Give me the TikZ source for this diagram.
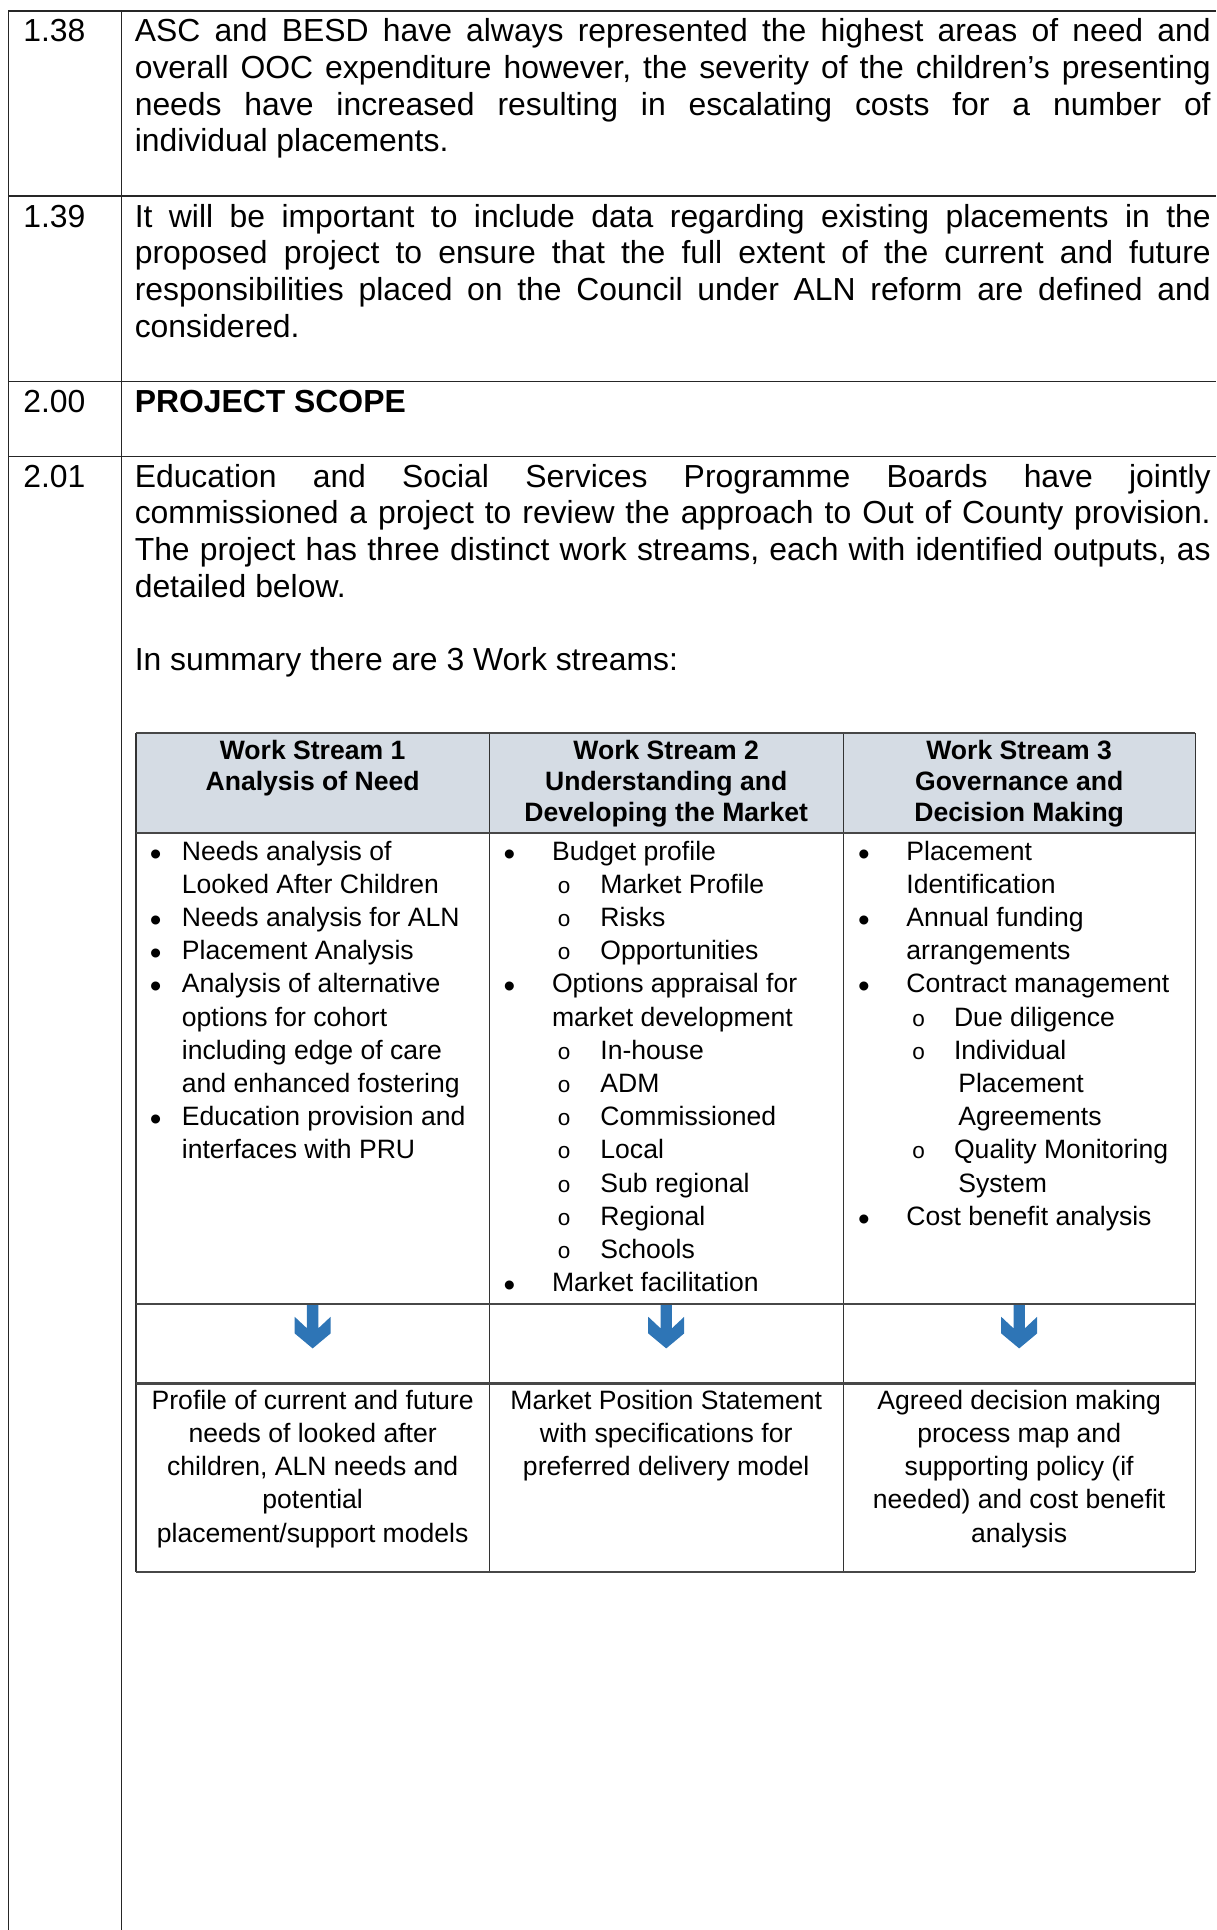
\documentclass[tikz,border=0pt]{standalone}
\usepackage{fontspec}
\setmainfont{Liberation Sans}
\newfontfamily\cour{Liberation Mono}
\newdimen\ux \ux=0.4633pt
\definecolor{hdrfill}{HTML}{D5DCE4}
\definecolor{arrblue}{RGB}{46,117,182}
\newcommand{\wline}[4]{\hbox{\rlap{\hskip #1\ux\makebox[0pt]{#2}}\hskip #3\ux #4}}
\newcommand{\jl}[1]{\hbox to 405pt{#1}}
\newcommand{\nl}[1]{\hbox{#1}}
\newcommand{\sym}{{\fontsize{8.5}{8.5}\selectfont\cour o}}
\newsavebox{\bulbox}
\newcommand{\bul}{\sbox{\bulbox}{\fontsize{12.5}{12.5}\selectfont\textbullet}\raisebox{\dimexpr 3.9pt-\ht\bulbox\relax}{\usebox{\bulbox}}}
\tikzset{
  body/.style={anchor=base west, inner sep=0pt, outer sep=0pt, font=\fontsize{12}{13.8}\selectfont\frenchspacing},
  cell/.style={anchor=base west, inner sep=0pt, outer sep=0pt, font=\fontsize{10}{12.5}\selectfont},
  hdrtxt/.style={anchor=base, inner sep=0pt, outer sep=0pt, font=\fontsize{10}{11.7}\selectfont\bfseries},
  outtxt/.style={anchor=base, inner sep=0pt, outer sep=0pt, font=\fontsize{10}{12.5}\selectfont},
  outerline/.style={line width=0.6pt, black!85},
  hrule/.style={line width=0.8pt, black!72},
  vrule/.style={line width=0.45pt, black!80},
  dnarrow/.pic={\fill[arrblue] (-4.6,0) -- (-4.6,19.7) -- (-14.6,10.3) -- (-14.6,23.8) -- (0,36) -- (14.6,23.8) -- (14.6,10.3) -- (4.6,19.7) -- (4.6,0) -- cycle;}
}
\begin{document}
\begin{tikzpicture}[x=0.4633pt,y=-0.4633pt]
\useasboundingbox (0,0) rectangle (988,1568);
% outer table
\draw[outerline] (7,1568) -- (7,8.9) -- (988,8.9);
\draw[outerline] (98.8,8.9) -- (98.8,1568);
\foreach \yy in {159.2,310.1,371} \draw[outerline] (7,\yy) -- (988,\yy);
% numbers
\node[body] (n138) at (19,33.9) {1.38};
\node[body] (n139) at (19,184.5) {1.39};
\node[body] (n200) at (19,335.5) {2.00};
\node[body] (n201) at (19,395.8) {2.01};
% paragraphs
\node[body] (p138) at (109.5,33.9) {\vtop{%
\jl{ASC and BESD have always represented the highest areas of need and}
\jl{overall OOC expenditure however, the severity of the children’s presenting}
\jl{needs have increased resulting in escalating costs for a number of}
\nl{individual placements.}}};
\node[body] (p139) at (109.5,184.5) {\vtop{%
\jl{It will be important to include data regarding existing placements in the}
\jl{proposed project to ensure that the full extent of the current and future}
\jl{responsibilities placed on the Council under ALN reform are defined and}
\nl{considered.}}};
\node[body, font=\fontsize{12}{13.8}\selectfont\bfseries] (p200) at (109.5,335.5) {PROJECT SCOPE};
\node[body] (p201) at (109.5,395.8) {\vtop{%
\jl{Education and Social Services Programme Boards have jointly}
\jl{commissioned a project to review the approach to Out of County provision.}
\jl{The project has three distinct work streams, each with identified outputs, as}
\nl{detailed below.}}};
\node[body] (summ) at (109.5,544.8) {In summary there are 3 Work streams:};
% inner table
\fill[hdrfill] (110.5,595.3) rectangle (971,677);
\pic at (254,1059.5) {dnarrow};
\pic at (541.25,1059.5) {dnarrow};
\pic at (828,1059.5) {dnarrow};
\foreach \xx in {110.5,397.5,685,971} \draw[vrule] (\xx,595.3) -- (\xx,1277);
\foreach \yy in {595.3,677,1059.5,1124,1277} \draw[hrule] (110.5,\yy) -- (971,\yy);
% headers
\node[hdrtxt] (h1) at (254,616.7) {\vtop{\halign{\hfil#\hfil\cr Work Stream 1\cr Analysis of Need\cr}}};
\node[hdrtxt] (h2) at (541.25,616.7) {\vtop{\halign{\hfil#\hfil\cr Work Stream 2\cr Understanding and\cr Developing the Market\cr}}};
\node[hdrtxt] (h3) at (828,616.7) {\vtop{\halign{\hfil#\hfil\cr Work Stream 3\cr Governance and\cr Decision Making\cr}}};
% column bodies
\node[cell] (c1) at (110.5,698.7) {\vtop{%
\wline{16}{\bul}{37.3}{Needs analysis of}
\wline{0}{}{37.3}{Looked After Children}
\wline{16}{\bul}{37.3}{Needs analysis for ALN}
\wline{16}{\bul}{37.3}{Placement Analysis}
\wline{16}{\bul}{37.3}{Analysis of alternative}
\wline{0}{}{37.3}{options for cohort}
\wline{0}{}{37.3}{including edge of care}
\wline{0}{}{37.3}{and enhanced fostering}
\wline{16}{\bul}{37.3}{Education provision and}
\wline{0}{}{37.3}{interfaces with PRU}}};
\node[cell] (c2) at (397.5,698.7) {\vtop{%
\wline{16.3}{\bul}{51}{Budget profile}
\wline{60.8}{\sym}{90.3}{Market Profile}
\wline{60.8}{\sym}{90.3}{Risks}
\wline{60.8}{\sym}{90.3}{Opportunities}
\wline{16.3}{\bul}{51}{Options appraisal for}
\wline{0}{}{51}{market development}
\wline{60.8}{\sym}{90.3}{In-house}
\wline{60.8}{\sym}{90.3}{ADM}
\wline{60.8}{\sym}{90.3}{Commissioned}
\wline{60.8}{\sym}{90.3}{Local}
\wline{60.8}{\sym}{90.3}{Sub regional}
\wline{60.8}{\sym}{90.3}{Regional}
\wline{60.8}{\sym}{90.3}{Schools}
\wline{16.3}{\bul}{51}{Market facilitation}}};
\node[cell] (c3) at (685,698.7) {\vtop{%
\wline{16.8}{\bul}{51.4}{Placement}
\wline{0}{}{51.4}{Identification}
\wline{16.8}{\bul}{51.4}{Annual funding}
\wline{0}{}{51.4}{arrangements}
\wline{16.8}{\bul}{51.4}{Contract management}
\wline{61.3}{\sym}{90.1}{Due diligence}
\wline{61.3}{\sym}{90.1}{Individual}
\wline{0}{}{93.6}{Placement}
\wline{0}{}{93.6}{Agreements}
\wline{61.3}{\sym}{90.1}{Quality Monitoring}
\wline{0}{}{93.6}{System}
\wline{16.8}{\bul}{51.4}{Cost benefit analysis}}};
% outputs
\node[outtxt] (o1) at (254,1145) {\vtop{\halign{\hfil#\hfil\cr Profile of current and future\cr needs of looked after\cr children, ALN needs and\cr potential\cr placement/support models\cr}}};
\node[outtxt] (o2) at (541.25,1145) {\vtop{\halign{\hfil#\hfil\cr Market Position Statement\cr with specifications for\cr preferred delivery model\cr}}};
\node[outtxt] (o3) at (828,1145) {\vtop{\halign{\hfil#\hfil\cr Agreed decision making\cr process map and\cr supporting policy (if\cr needed) and cost benefit\cr analysis\cr}}};
\end{tikzpicture}
\end{document}
